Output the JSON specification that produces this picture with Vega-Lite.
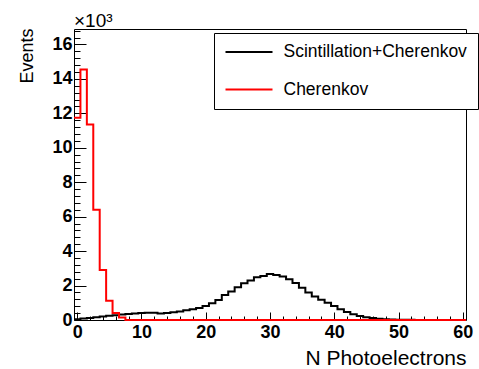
{
  "$schema": "https://vega.github.io/schema/vega-lite/v6.json",
  "width": 392,
  "height": 291,
  "autosize": "none",
  "padding": {"left": 74, "top": 29, "right": 13, "bottom": 49},
  "background": "white",
  "config": {
    "view": {"stroke": "black", "strokeWidth": 1},
    "font": "Liberation Sans",
    "axis": {"grid": false, "labelColor": "black", "titleColor": "black", "tickColor": "black", "domain": false}
  },
  "title": {"text": "×10³", "anchor": "start", "frame": "group", "fontSize": 19, "fontWeight": "normal", "font": "Liberation Sans", "color": "black", "offset": 2, "baseline": "alphabetic", "dy": 20},
  "data": {
    "values": [
      {"x": -0.5, "n": 50, "s": "Scintillation+Cherenkov"},
      {"x": 0.5, "n": 80, "s": "Scintillation+Cherenkov"},
      {"x": 1.5, "n": 120, "s": "Scintillation+Cherenkov"},
      {"x": 2.5, "n": 160, "s": "Scintillation+Cherenkov"},
      {"x": 3.5, "n": 200, "s": "Scintillation+Cherenkov"},
      {"x": 4.5, "n": 240, "s": "Scintillation+Cherenkov"},
      {"x": 5.5, "n": 280, "s": "Scintillation+Cherenkov"},
      {"x": 6.5, "n": 320, "s": "Scintillation+Cherenkov"},
      {"x": 7.5, "n": 350, "s": "Scintillation+Cherenkov"},
      {"x": 8.5, "n": 380, "s": "Scintillation+Cherenkov"},
      {"x": 9.5, "n": 400, "s": "Scintillation+Cherenkov"},
      {"x": 10.5, "n": 420, "s": "Scintillation+Cherenkov"},
      {"x": 11.5, "n": 420, "s": "Scintillation+Cherenkov"},
      {"x": 12.5, "n": 380, "s": "Scintillation+Cherenkov"},
      {"x": 13.5, "n": 400, "s": "Scintillation+Cherenkov"},
      {"x": 14.5, "n": 450, "s": "Scintillation+Cherenkov"},
      {"x": 15.5, "n": 500, "s": "Scintillation+Cherenkov"},
      {"x": 16.5, "n": 560, "s": "Scintillation+Cherenkov"},
      {"x": 17.5, "n": 620, "s": "Scintillation+Cherenkov"},
      {"x": 18.5, "n": 690, "s": "Scintillation+Cherenkov"},
      {"x": 19.5, "n": 810, "s": "Scintillation+Cherenkov"},
      {"x": 20.5, "n": 970, "s": "Scintillation+Cherenkov"},
      {"x": 21.5, "n": 1160, "s": "Scintillation+Cherenkov"},
      {"x": 22.5, "n": 1450, "s": "Scintillation+Cherenkov"},
      {"x": 23.5, "n": 1650, "s": "Scintillation+Cherenkov"},
      {"x": 24.5, "n": 1900, "s": "Scintillation+Cherenkov"},
      {"x": 25.5, "n": 2130, "s": "Scintillation+Cherenkov"},
      {"x": 26.5, "n": 2290, "s": "Scintillation+Cherenkov"},
      {"x": 27.5, "n": 2480, "s": "Scintillation+Cherenkov"},
      {"x": 28.5, "n": 2560, "s": "Scintillation+Cherenkov"},
      {"x": 29.5, "n": 2670, "s": "Scintillation+Cherenkov"},
      {"x": 30.5, "n": 2620, "s": "Scintillation+Cherenkov"},
      {"x": 31.5, "n": 2520, "s": "Scintillation+Cherenkov"},
      {"x": 32.5, "n": 2370, "s": "Scintillation+Cherenkov"},
      {"x": 33.5, "n": 2150, "s": "Scintillation+Cherenkov"},
      {"x": 34.5, "n": 1880, "s": "Scintillation+Cherenkov"},
      {"x": 35.5, "n": 1600, "s": "Scintillation+Cherenkov"},
      {"x": 36.5, "n": 1360, "s": "Scintillation+Cherenkov"},
      {"x": 37.5, "n": 1180, "s": "Scintillation+Cherenkov"},
      {"x": 38.5, "n": 1000, "s": "Scintillation+Cherenkov"},
      {"x": 39.5, "n": 810, "s": "Scintillation+Cherenkov"},
      {"x": 40.5, "n": 620, "s": "Scintillation+Cherenkov"},
      {"x": 41.5, "n": 460, "s": "Scintillation+Cherenkov"},
      {"x": 42.5, "n": 330, "s": "Scintillation+Cherenkov"},
      {"x": 43.5, "n": 230, "s": "Scintillation+Cherenkov"},
      {"x": 44.5, "n": 160, "s": "Scintillation+Cherenkov"},
      {"x": 45.5, "n": 110, "s": "Scintillation+Cherenkov"},
      {"x": 46.5, "n": 75, "s": "Scintillation+Cherenkov"},
      {"x": 47.5, "n": 50, "s": "Scintillation+Cherenkov"},
      {"x": 48.5, "n": 30, "s": "Scintillation+Cherenkov"},
      {"x": 49.5, "n": 20, "s": "Scintillation+Cherenkov"},
      {"x": 50.5, "n": 12, "s": "Scintillation+Cherenkov"},
      {"x": 51.5, "n": 8, "s": "Scintillation+Cherenkov"},
      {"x": 52.5, "n": 5, "s": "Scintillation+Cherenkov"},
      {"x": 53.5, "n": 3, "s": "Scintillation+Cherenkov"},
      {"x": 54.5, "n": 2, "s": "Scintillation+Cherenkov"},
      {"x": 55.5, "n": 1, "s": "Scintillation+Cherenkov"},
      {"x": 56.5, "n": 1, "s": "Scintillation+Cherenkov"},
      {"x": 57.5, "n": 0, "s": "Scintillation+Cherenkov"},
      {"x": 58.5, "n": 0, "s": "Scintillation+Cherenkov"},
      {"x": 59.5, "n": 0, "s": "Scintillation+Cherenkov"},
      {"x": 60.5, "n": 0, "s": "Scintillation+Cherenkov"},
      {"x": -0.5, "n": 11750, "s": "Cherenkov"},
      {"x": 0.5, "n": 14550, "s": "Cherenkov"},
      {"x": 1.5, "n": 11350, "s": "Cherenkov"},
      {"x": 2.5, "n": 6400, "s": "Cherenkov"},
      {"x": 3.5, "n": 2900, "s": "Cherenkov"},
      {"x": 4.5, "n": 1120, "s": "Cherenkov"},
      {"x": 5.5, "n": 400, "s": "Cherenkov"},
      {"x": 6.5, "n": 150, "s": "Cherenkov"},
      {"x": 7.5, "n": 0, "s": "Cherenkov"},
      {"x": 60.5, "n": 0, "s": "Cherenkov"}
    ]
  },
  "layer": [
    {
      "transform": [{"filter": "datum.s == 'Scintillation+Cherenkov'"}],
      "mark": {"type": "line", "interpolate": "step-after", "strokeWidth": 2},
      "encoding": {
        "x": {"field": "x", "type": "quantitative", "scale": {"domain": [-0.5, 60.5], "nice": false, "zero": false},
          "axis": {"orient": "bottom", "values": [0, 10, 20, 30, 40, 50, 60], "ticks": false, "labelFontSize": 18, "labelFontWeight": "bold", "labelPadding": 3, "labelOverlap": false, "labelFlush": false, "labelBound": false,
            "title": "N Photoelectrons", "titleFontSize": 21, "titleFontWeight": "normal", "titleAnchor": "end", "titlePadding": 6}},
        "y": {"field": "n", "type": "quantitative", "scale": {"domain": [0, 16900], "nice": false},
          "axis": {"orient": "left", "values": [0, 2000, 4000, 6000, 8000, 10000, 12000, 14000, 16000], "labelExpr": "datum.value / 1000", "ticks": false, "labelFontSize": 18, "labelFontWeight": "bold", "labelPadding": 2, "labelOverlap": false, "labelFlush": false, "labelBound": false,
            "title": "Events", "titleFontSize": 18, "titleFontWeight": "normal", "titleAngle": -90, "titleAlign": "right", "titleBaseline": "alphabetic", "titleX": -42, "titleY": -1}},
        "color": {"field": "s", "type": "nominal",
          "scale": {"domain": ["Scintillation+Cherenkov", "Cherenkov"], "range": ["#000000", "#ff0000"]},
          "legend": {"orient": "none", "legendX": 140, "legendY": 4, "title": null, "symbolType": "stroke", "symbolStrokeWidth": 2, "symbolSize": 2209, "clipHeight": 17,
            "labelFontSize": 17.5, "labelFont": "Liberation Sans", "labelColor": "black", "labelOffset": 10, "labelLimit": 400, "padding": 10.5, "strokeColor": "black", "fillColor": "white", "rowPadding": 19.5}}
      }
    },
    {
      "transform": [{"filter": "datum.s == 'Cherenkov'"}],
      "mark": {"type": "line", "interpolate": "step-after", "strokeWidth": 2},
      "encoding": {
        "x": {"field": "x", "type": "quantitative", "axis": null},
        "y": {"field": "n", "type": "quantitative", "axis": null},
        "color": {"field": "s", "type": "nominal"}
      }
    },
    {
      "mark": {"type": "point", "opacity": 0},
      "encoding": {
        "x": {"field": "x", "type": "quantitative", "axis": {"orient": "bottom", "values": [0, 10, 20, 30, 40, 50, 60], "labels": false, "tickSize": -8, "title": null}},
        "y": {"field": "n", "type": "quantitative", "axis": {"orient": "left", "values": [0, 2000, 4000, 6000, 8000, 10000, 12000, 14000, 16000], "labels": false, "tickSize": -12, "title": null}}
      }
    },
    {
      "mark": {"type": "point", "opacity": 0},
      "encoding": {
        "x": {"field": "x", "type": "quantitative", "axis": {"orient": "bottom", "values": [2, 4, 6, 8, 12, 14, 16, 18, 22, 24, 26, 28, 32, 34, 36, 38, 42, 44, 46, 48, 52, 54, 56, 58], "labels": false, "tickSize": -4, "title": null}},
        "y": {"field": "n", "type": "quantitative", "axis": {"orient": "left", "values": [400, 800, 1200, 1600, 2400, 2800, 3200, 3600, 4400, 4800, 5200, 5600, 6400, 6800, 7200, 7600, 8400, 8800, 9200, 9600, 10400, 10800, 11200, 11600, 12400, 12800, 13200, 13600, 14400, 14800, 15200, 15600, 16400, 16800], "labels": false, "tickSize": -6, "title": null}}
      }
    }
  ],
  "resolve": {"axis": {"x": "independent", "y": "independent"}}
}
